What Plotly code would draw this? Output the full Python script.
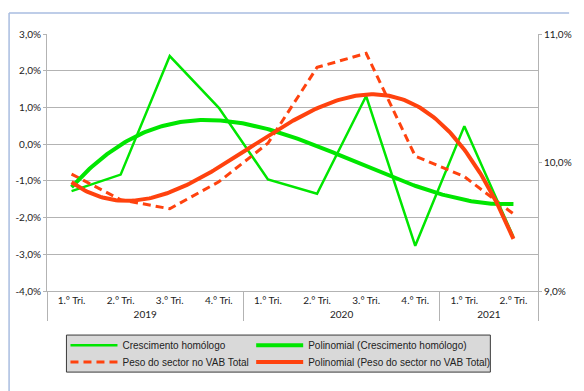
import numpy as np
import plotly.graph_objects as go

# Quarterly categories (two-level axis: year / quarter)
years = ["2019"] * 4 + ["2020"] * 4 + ["2021"] * 2
quarters = ["1.° Tri.", "2.° Tri.", "3.° Tri.", "4.° Tri."] * 2 + ["1.° Tri.", "2.° Tri."]

# Year-on-year growth (%), left axis
crescimento = [-1.28, -0.83, 2.40, 0.99, -0.96, -1.35, 1.31, -2.77, 0.49, -2.53]
# Sector share of total GVA (%), right axis
peso = [9.91, 9.71, 9.64, 9.85, 10.15, 10.74, 10.85, 10.05, 9.89, 9.60]

left_ticks = [-4, -3, -2, -1, 0, 1, 2, 3]
right_ticks = [9, 10, 11]


def pct_label(v):
    return f"{v:.1f}%".replace(".", ",")


GREEN = "#00e600"
ORANGE = "#ff420e"
GRID = "#b3b3b3"
TXT = "#222222"

# Cubic polynomial trend lines fitted to each series
idx = np.arange(len(quarters))
dense = np.linspace(0, len(quarters) - 1, 200)
trend_c = np.polyval(np.polyfit(idx, crescimento, 3), dense)
trend_p = np.polyval(np.polyfit(idx, peso, 3), dense)

fig = go.Figure()
fig.add_trace(go.Scatter(x=[years, quarters], y=crescimento, mode="lines",
                         name="Crescimento homólogo",
                         line=dict(color=GREEN, width=2.5), legend="legend"))
fig.add_trace(go.Scatter(x=[years, quarters], y=peso, mode="lines", yaxis="y2",
                         name="Peso do sector no VAB Total",
                         line=dict(color=ORANGE, width=3, dash="8px,5px"), legend="legend3"))
fig.add_trace(go.Scatter(x=dense, y=trend_c, mode="lines", xaxis="x2", yaxis="y",
                         name="Polinomial (Crescimento homólogo)",
                         line=dict(color=GREEN, width=4), legend="legend2"))
fig.add_trace(go.Scatter(x=dense, y=trend_p, mode="lines", xaxis="x2", yaxis="y2",
                         name="Polinomial (Peso do sector no VAB Total)",
                         line=dict(color=ORANGE, width=4), legend="legend4"))

W, H = 584, 391
L, R, T, B = 47, 552, 34, 290.7


def px(x):
    return (x - L) / (R - L)


def py(y):
    return (B - y) / (B - T)


tickfont = dict(family="Lato", size=10, color=TXT)
legfont = dict(family="Liberation Sans", size=10, color=TXT)


def leg(x, y):
    return dict(x=px(x), y=py(y), orientation="h", xanchor="left", yanchor="middle",
                bgcolor="rgba(0,0,0,0)", font=legfont, itemwidth=47)


fig.update_layout(
    width=W, height=H,
    margin=dict(l=L, r=W - R, t=T, b=H - B),
    paper_bgcolor="white", plot_bgcolor="white",
    showlegend=True,
    xaxis=dict(type="multicategory", range=[-0.5, 9.5], showline=True, linecolor=GRID,
               showgrid=False, dividercolor=GRID, dividerwidth=1, tickfont=tickfont,
               ticks=""),
    xaxis2=dict(overlaying="x", anchor="y", range=[-0.5, 9.5], visible=False),
    yaxis=dict(range=[-4, 3], tickvals=left_ticks,
               ticktext=[pct_label(v) for v in left_ticks],
               showgrid=True, gridcolor=GRID, showline=True, linecolor=GRID,
               ticks="outside", ticklen=3, tickcolor=GRID, zeroline=False,
               tickfont=tickfont),
    yaxis2=dict(overlaying="y", side="right", anchor="x", range=[9, 11],
                tickvals=right_ticks, ticktext=[pct_label(v) for v in right_ticks],
                showgrid=False, showline=True, linecolor=GRID, ticks="outside",
                ticklen=3, tickcolor=GRID, zeroline=False, tickfont=tickfont),
    legend=leg(66, 345),
    legend2=leg(257, 345),
    legend3=leg(66, 361.5),
    legend4=leg(257, 361.5),
    shapes=[
        # legend box
        dict(type="rect", xref="paper", yref="paper", x0=px(67), x1=px(503),
             y0=py(371.7), y1=py(334.7), fillcolor="#d9d9d9",
             line=dict(color="#3a3a3a", width=1), layer="below"),
        # page frame lines
        dict(type="line", xref="paper", yref="paper", x0=px(8), x1=px(8),
             y0=py(13), y1=py(H), line=dict(color="#a9bde0", width=1.5)),
        dict(type="line", xref="paper", yref="paper", x0=px(8), x1=px(W),
             y0=py(13), y1=py(13), line=dict(color="#a9bde0", width=1.5)),
    ],
)

fig.write_html("out.html")
